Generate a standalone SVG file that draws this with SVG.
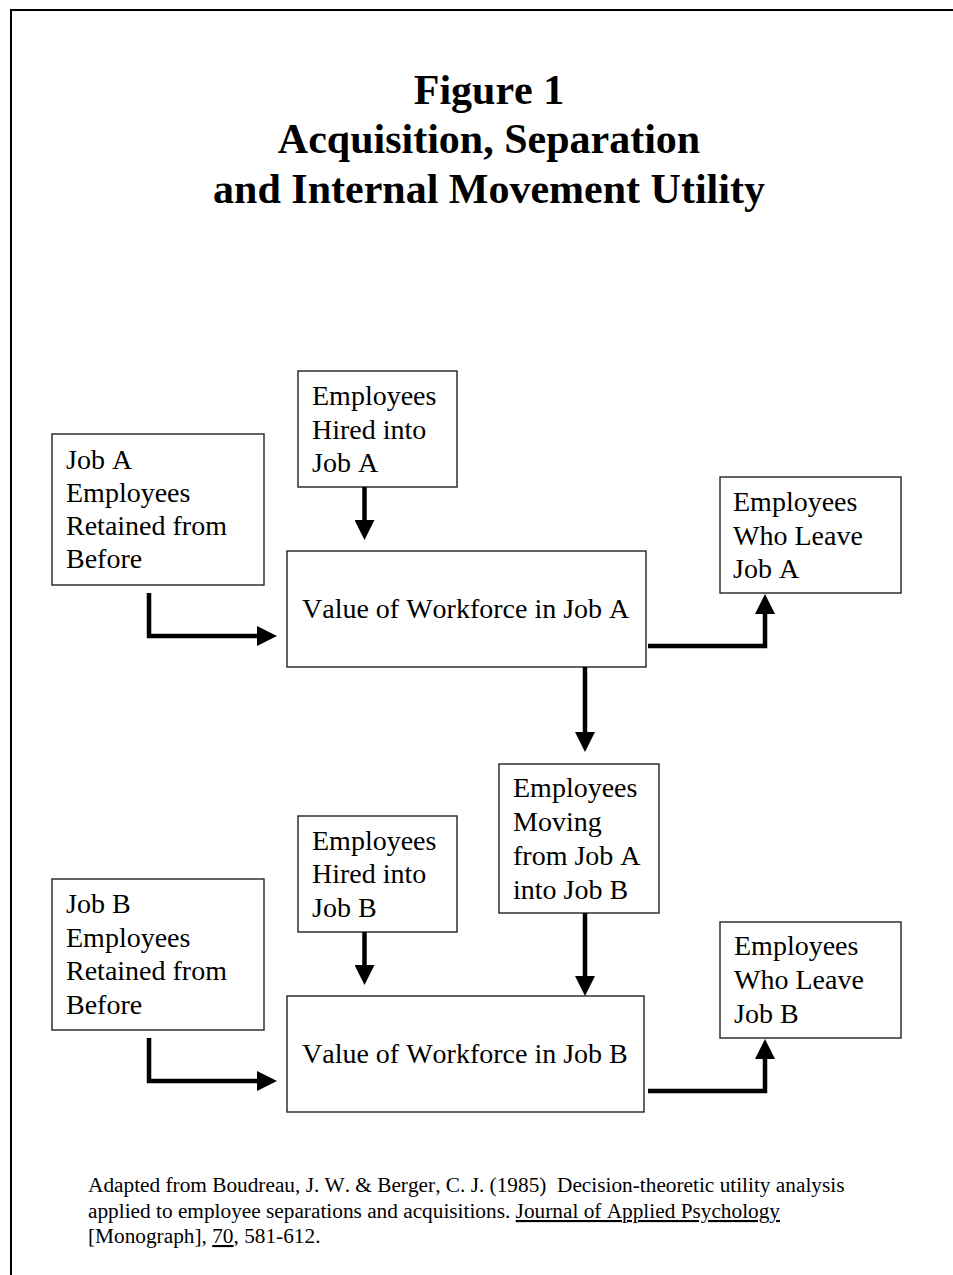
<svg xmlns="http://www.w3.org/2000/svg" width="953" height="1275" viewBox="0 0 953 1275">
  <style>
    text { font-kerning: none; }
    .box { fill: #ffffff; stroke: #222222; stroke-width: 1.4; }
    .lbl { font-family: "Liberation Serif", "Times New Roman", serif; font-size: 28px; font-weight: normal; fill: #000000; }
    .title { font-family: "Liberation Serif", "Times New Roman", serif; font-size: 42px; font-weight: bold; fill: #000000; text-anchor: middle; }
    .foot { font-family: "Liberation Serif", "Times New Roman", serif; font-size: 21.3px; fill: #000000; white-space: pre; }
    .conn { fill: none; stroke: #000000; stroke-width: 4.5; stroke-linejoin: miter; stroke-linecap: butt; }
  </style>
  <defs>
    <marker id="ah" markerUnits="userSpaceOnUse" markerWidth="20" markerHeight="20" refX="0" refY="10" orient="auto" viewBox="0 0 20 20">
      <path d="M0,0 L20,10 L0,20 Z" fill="#000000"/>
    </marker>
  </defs>
  <rect x="0" y="0" width="953" height="1275" fill="#ffffff"/>
  <path d="M11,1275 V10 H953" fill="none" stroke="#000000" stroke-width="2"/>

  <g id="title">
    <text class="title" x="489" y="104">Figure 1</text>
    <text class="title" x="489" y="153">Acquisition, Separation</text>
    <text class="title" x="489" y="203">and Internal Movement Utility</text>
  </g>

  <g id="hiredA">
    <rect class="box" x="298" y="371" width="159" height="116"/>
    <text class="lbl" x="312" y="405">Employees</text>
    <text class="lbl" x="312" y="439">Hired into</text>
    <text class="lbl" x="312" y="472">Job A</text>
  </g>
  <g id="retainedA">
    <rect class="box" x="52" y="434" width="212" height="151"/>
    <text class="lbl" x="66" y="469">Job A</text>
    <text class="lbl" x="66" y="502">Employees</text>
    <text class="lbl" x="66" y="535">Retained from</text>
    <text class="lbl" x="66" y="568">Before</text>
  </g>
  <g id="valueA">
    <rect class="box" x="287" y="551" width="359" height="116"/>
    <text class="lbl" x="302" y="618">Value of Workforce in Job A</text>
  </g>
  <g id="leaveA">
    <rect class="box" x="720" y="477" width="181" height="116"/>
    <text class="lbl" x="733" y="511">Employees</text>
    <text class="lbl" x="733" y="545">Who Leave</text>
    <text class="lbl" x="733" y="578">Job A</text>
  </g>
  <g id="moving">
    <rect class="box" x="499" y="764" width="160" height="149"/>
    <text class="lbl" x="513" y="797">Employees</text>
    <text class="lbl" x="513" y="831">Moving</text>
    <text class="lbl" x="513" y="865">from Job A</text>
    <text class="lbl" x="513" y="899">into Job B</text>
  </g>
  <g id="hiredB">
    <rect class="box" x="298" y="816" width="159" height="116"/>
    <text class="lbl" x="312" y="850">Employees</text>
    <text class="lbl" x="312" y="883">Hired into</text>
    <text class="lbl" x="312" y="917">Job B</text>
  </g>
  <g id="retainedB">
    <rect class="box" x="52" y="879" width="212" height="151"/>
    <text class="lbl" x="66" y="913">Job B</text>
    <text class="lbl" x="66" y="947">Employees</text>
    <text class="lbl" x="66" y="980">Retained from</text>
    <text class="lbl" x="66" y="1014">Before</text>
  </g>
  <g id="valueB">
    <rect class="box" x="287" y="996" width="357" height="116"/>
    <text class="lbl" x="302" y="1063">Value of Workforce in Job B</text>
  </g>
  <g id="leaveB">
    <rect class="box" x="720" y="922" width="181" height="116"/>
    <text class="lbl" x="734" y="955">Employees</text>
    <text class="lbl" x="734" y="989">Who Leave</text>
    <text class="lbl" x="734" y="1023">Job B</text>
  </g>

  <g id="connectors">
    <path class="conn" d="M364.5,487 V520" marker-end="url(#ah)"/>
    <path class="conn" d="M149,593 V636 H257" marker-end="url(#ah)"/>
    <path class="conn" d="M648,646 H765 V614" marker-end="url(#ah)"/>
    <path class="conn" d="M585,667 V732" marker-end="url(#ah)"/>
    <path class="conn" d="M364.5,932 V965" marker-end="url(#ah)"/>
    <path class="conn" d="M149,1038 V1081 H257" marker-end="url(#ah)"/>
    <path class="conn" d="M585,913 V976" marker-end="url(#ah)"/>
    <path class="conn" d="M648,1091 H765 V1059" marker-end="url(#ah)"/>
  </g>

  <g id="footer">
    <text class="foot" x="88" y="1192">Adapted from Boudreau, J. W. &amp; Berger, C. J. (1985)  Decision-theoretic utility analysis</text>
    <text class="foot" x="88" y="1218">applied to employee separations and acquisitions. <tspan text-decoration="underline">Journal of Applied Psychology</tspan></text>
    <text class="foot" x="88" y="1243">[Monograph], <tspan text-decoration="underline">70</tspan>, 581-612.</text>
  </g>
</svg>
